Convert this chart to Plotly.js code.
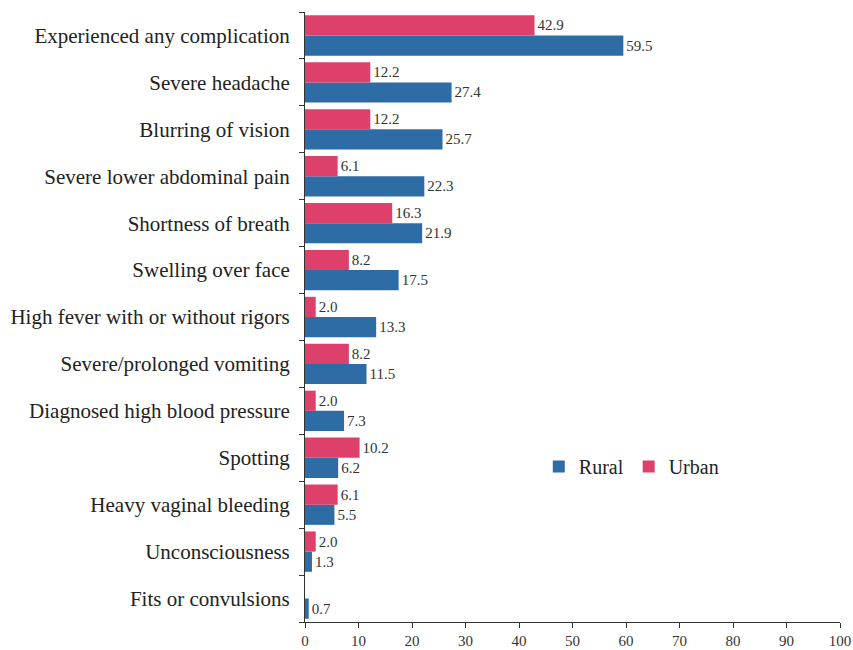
<!DOCTYPE html>
<html>
<head>
<meta charset="utf-8">
<script src="https://cdn.plot.ly/plotly-3.0.1.min.js"></script>
<style>html,body{margin:0;padding:0;background:#fff;}#chart{width:853px;height:650px;}</style>
</head>
<body>
<div id="chart"></div>
<script>
const categories = [
  "Experienced any complication",
  "Severe headache",
  "Blurring of vision",
  "Severe lower abdominal pain",
  "Shortness of breath",
  "Swelling over face",
  "High fever with or without rigors",
  "Severe/prolonged vomiting",
  "Diagnosed high blood pressure",
  "Spotting",
  "Heavy vaginal bleeding",
  "Unconsciousness",
  "Fits or convulsions"
];
const rural = [59.5, 27.4, 25.7, 22.3, 21.9, 17.5, 13.3, 11.5, 7.3, 6.2, 5.5, 1.3, 0.7];
const urban = [42.9, 12.2, 12.2, 6.1, 16.3, 8.2, 2.0, 8.2, 2.0, 10.2, 6.1, 2.0, null];
const xTicks = [0, 10, 20, 30, 40, 50, 60, 70, 80, 90, 100];

const fontFam = "Liberation Serif";
const lbl = v => v == null ? "" : v.toFixed(1);

const traces = [
  {type: "bar", orientation: "h", name: "Rural", y: categories, x: rural,
   marker: {color: "#2E6CA5"}, text: rural.map(lbl), textposition: "outside",
   cliponaxis: false, textfont: {family: fontFam, size: 15, color: "#333"}},
  {type: "bar", orientation: "h", name: "Urban", y: categories, x: urban,
   marker: {color: "#DD406A"}, text: urban.map(lbl), textposition: "outside",
   cliponaxis: false, textfont: {family: fontFam, size: 15, color: "#333"}}
];

const layout = {
  width: 853, height: 650,
  margin: {l: 305, r: 13, t: 12, b: 28},
  barmode: "group", bargap: 0.14, bargroupgap: 0,
  font: {family: fontFam, color: "#222"},
  paper_bgcolor: "#fff", plot_bgcolor: "#fff",
  showlegend: true,
  legend: {orientation: "h", x: 0.437, y: 0.255, xanchor: "left", yanchor: "middle",
           font: {family: fontFam, size: 20, color: "#222"}, traceorder: "normal",
           itemwidth: 30},
  xaxis: {range: [0, 100], tickvals: xTicks, ticktext: xTicks.map(String),
          showgrid: false, zeroline: false, showline: true, linecolor: "#333", linewidth: 1,
          ticks: "outside", ticklen: 5, tickcolor: "#333",
          tickfont: {family: fontFam, size: 15, color: "#333"}, fixedrange: true},
  yaxis: {type: "category", categoryorder: "array", categoryarray: categories.slice().reverse(),
          showgrid: false, zeroline: false, showline: true, linecolor: "#333", linewidth: 1,
          ticks: "outside", ticklen: 5, tickcolor: "#333", tickson: "boundaries",
          tickfont: {family: fontFam, size: 21, color: "#222"}, ticklabelstandoff: 10}
};

Plotly.newPlot("chart", traces, layout, {displayModeBar: false, staticPlot: true});
</script>
</body>
</html>
